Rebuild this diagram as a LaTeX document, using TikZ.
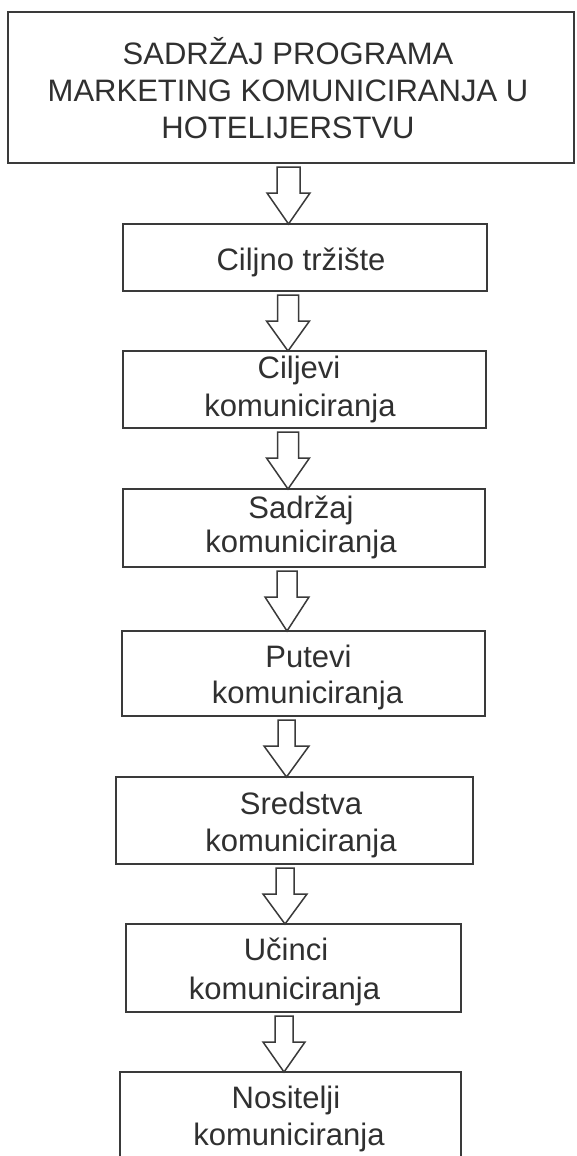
\documentclass[tikz,border=0pt]{standalone}
\usepackage{fontspec}
\setmainfont{Liberation Sans}
\usetikzlibrary{calc}
\definecolor{lc}{HTML}{3A3A3A}
\definecolor{tc}{HTML}{303030}
\tikzset{
  box/.style={draw=lc, line width=1.6pt, rectangle, inner sep=0pt, outer sep=0pt, fill=white},
  lbl/.style={text=tc, inner sep=0pt, outer sep=0pt, anchor=base, font=\fontsize{31pt}{37pt}\selectfont},
  arr/.style={draw=lc, line width=1.5pt, fill=white, line join=miter}
}
\newcommand{\fatarr}[5]{%
  \draw[arr] let \p1=(#1.south), \p2=(#2.north) in
    ({#3pt-#4pt},{\y1-4pt}) -- ({#3pt+#4pt},{\y1-4pt}) -- ({#3pt+#4pt},{\y1-30pt})
    -- ({#3pt+#5pt},{\y1-30pt}) -- ({#3pt},{\y2}) -- ({#3pt-#5pt},{\y1-30pt})
    -- ({#3pt-#4pt},{\y1-30pt}) -- cycle;}
\begin{document}
\begin{tikzpicture}[x=1pt,y=-1pt]
\useasboundingbox (0,0) rectangle (577,1156);
\fill[white] (0,0) rectangle (577,1156);
\clip (0,0) rectangle (577,1156);
% boxes
\node[box, minimum width=566pt, minimum height=151pt] (b1) at (291,87.5) {};
\node[box, minimum width=364pt, minimum height=67pt] (b2) at (305,257.5) {};
\node[box, minimum width=363pt, minimum height=77pt] (b3) at (304.5,389.5) {};
\node[box, minimum width=362pt, minimum height=78pt] (b4) at (304,528) {};
\node[box, minimum width=363pt, minimum height=85pt] (b5) at (303.5,673.5) {};
\node[box, minimum width=357pt, minimum height=87pt] (b6) at (294.5,820.5) {};
\node[box, minimum width=335pt, minimum height=88pt] (b7) at (293.5,968) {};
\node[box, minimum width=341pt, minimum height=103pt] (b8) at (290.5,1123.5) {};
% texts
\node[lbl] (t1a) at (288,64) {SADRŽAJ PROGRAMA};
\node[lbl] (t1b) at (288,101) {MARKETING KOMUNICIRANJA U};
\node[lbl] (t1c) at (288,138) {HOTELIJERSTVU};
\node[lbl] (t2) at (301,270) {Ciljno tržište};
\node[lbl] (t3a) at (299,378) {Ciljevi};
\node[lbl] (t3b) at (300,416) {komuniciranja};
\node[lbl] (t4a) at (301,518) {Sadržaj};
\node[lbl] (t4b) at (301,552) {komuniciranja};
\node[lbl] (t5a) at (308.5,667) {Putevi};
\node[lbl] (t5b) at (307.5,703) {komuniciranja};
\node[lbl] (t6a) at (301,814) {Sredstva};
\node[lbl] (t6b) at (301,851) {komuniciranja};
\node[lbl] (t7a) at (286,960) {Učinci};
\node[lbl] (t7b) at (284.5,999) {komuniciranja};
\node[lbl] (t8a) at (286,1108) {Nositelji};
\node[lbl] (t8b) at (289,1145) {komuniciranja};
% arrows
\fatarr{b1}{b2}{288.5}{11.5}{21.5}
\fatarr{b2}{b3}{288}{10.5}{21.5}
\fatarr{b3}{b4}{288}{10.5}{21.5}
\fatarr{b4}{b5}{287}{10}{22}
\fatarr{b5}{b6}{286.5}{8.5}{22.5}
\fatarr{b6}{b7}{285}{9}{22}
\fatarr{b7}{b8}{284}{9}{21}
\end{tikzpicture}
\end{document}
